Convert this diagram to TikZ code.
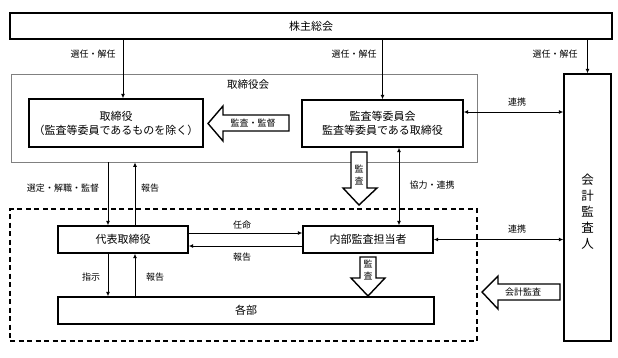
\documentclass[tikz,border=0pt]{standalone}
\usepackage{fontspec}
\setmainfont{Noto Sans CJK JP}
\usetikzlibrary{arrows.meta}
\tikzset{
  box/.style={draw, line width=1.4pt, inner sep=0pt, font=\fontsize{11}{14}\selectfont, align=center},
  lbl/.style={inner sep=0pt, font=\fontsize{9}{11}\selectfont},
  arr/.style={line width=1pt, -{Latex[length=4.5pt,width=4pt]}},
  darr/.style={line width=1pt, {Latex[length=4.5pt,width=4pt]}-{Latex[length=4.5pt,width=4pt]}},
  hollow/.style={draw, line width=1.4pt, fill=white, line join=miter},
}
\begin{document}
\begin{tikzpicture}[x=1pt,y=-1pt]
\useasboundingbox (0,0) rectangle (618,357);
% frames
\node[draw=gray, line width=0.8pt, minimum width=466pt, minimum height=88pt, inner sep=0pt] (board) at (244,118) {};
\node[font=\fontsize{10.5}{12}\selectfont, inner sep=0pt] (boardtitle) at (248,85) {取締役会};
\node[draw, dashed, dash pattern=on 5pt off 3.5pt, line width=1.4pt, minimum width=467pt, minimum height=132pt, inner sep=0pt] (inner) at (243.5,275) {};
% boxes
\node[box, minimum width=602pt, minimum height=26pt] (share) at (311,26) {株主総会};
\node[box, minimum width=174pt, minimum height=48pt] (tori) at (116,123) {取締役\\（監査等委員であるものを除く）};
\node[box, minimum width=161pt, minimum height=47pt] (kansa) at (382.5,123.5) {監査等委員会\\監査等委員である取締役};
\node[box, minimum width=47pt, minimum height=267pt] (kaikei) at (587.5,207.5) {};
\node[inner sep=0pt, align=center, font=\fontsize{12.5}{16}\selectfont] (kaikeitext) at (587.5,212) {会\\計\\監\\査\\人};
\node[box, minimum width=130pt, minimum height=27pt] (daihyo) at (123,239.5) {代表取締役};
\node[box, minimum width=130pt, minimum height=27pt] (naibu) at (368,239.5) {内部監査担当者};
\node[box, minimum width=376pt, minimum height=27pt] (kakubu) at (246,310.5) {各部};
% helper coordinates
\coordinate (xa) at (123,0);
\coordinate (xd) at (108,0);
\coordinate (xu) at (135,0);
\coordinate (xk) at (399,0);
\coordinate (yr1) at (0,112);
\coordinate (ya) at (0,233);
\coordinate (yb) at (0,246);
% connectors
\draw[arr] (share.south -| xa) -- (tori.north -| xa);
\draw[arr] (share.south -| kansa.north) -- (kansa.north);
\draw[arr] (share.south -| kaikei.north) -- (kaikei.north);
\draw[darr] (kansa.east |- yr1) -- (kaikei.west |- yr1);
\draw[arr] (board.south -| xd) -- (daihyo.north -| xd);
\draw[arr] (daihyo.north -| xu) -- (board.south -| xu);
\draw[darr] (kansa.south -| xk) -- (naibu.north -| xk);
\draw[arr] (daihyo.east |- ya) -- (naibu.west |- ya);
\draw[arr] (naibu.west |- yb) -- (daihyo.east |- yb);
\draw[darr] (naibu.east) -- (kaikei.west |- naibu.east);
\draw[arr] (daihyo.south -| xd) -- (kakubu.north -| xd);
\draw[arr] (kakubu.north -| xu) -- (daihyo.south -| xu);
% hollow arrows
\draw[hollow] (289,115) -- (223,115) -- (223,106) -- (208,123.5) -- (223,141) -- (223,131) -- (289,131) -- cycle;
\draw[hollow] (351,152) -- (367,152) -- (367,188) -- (377,188) -- (359,205) -- (343,188) -- (351,188) -- cycle;
\draw[hollow] (360,257) -- (376,257) -- (376,278) -- (385,278) -- (368,296) -- (351,278) -- (360,278) -- cycle;
\draw[hollow] (560,284) -- (498,284) -- (498,276) -- (482,292) -- (498,309) -- (498,300) -- (560,300) -- cycle;
% labels
\node[lbl] (l1) at (93,54) {選任・解任};
\node[lbl] (l2) at (354,54) {選任・解任};
\node[lbl] (l3) at (555,54) {選任・解任};
\node[lbl] (l4) at (517,102) {連携};
\node[lbl] (l5) at (517,229) {連携};
\node[lbl] (l6) at (253,123) {監査・監督};
\node[lbl] (l7) at (63,188) {選定・解職・監督};
\node[lbl] (l8) at (150,188) {報告};
\node[lbl] (l9) at (432,185) {協力・連携};
\node[lbl] (l10) at (242,225) {任命};
\node[lbl] (l11) at (242,257) {報告};
\node[lbl] (l12) at (91,277) {指示};
\node[lbl] (l13) at (155,277) {報告};
\node[lbl] (l14) at (523,292) {会計監査};
\node[lbl, align=center, font=\fontsize{9}{12}\selectfont] (l15) at (359,175) {監\\査};
\node[lbl, align=center, font=\fontsize{9}{12}\selectfont] (l16) at (368,270) {監\\査};
\end{tikzpicture}
\end{document}
